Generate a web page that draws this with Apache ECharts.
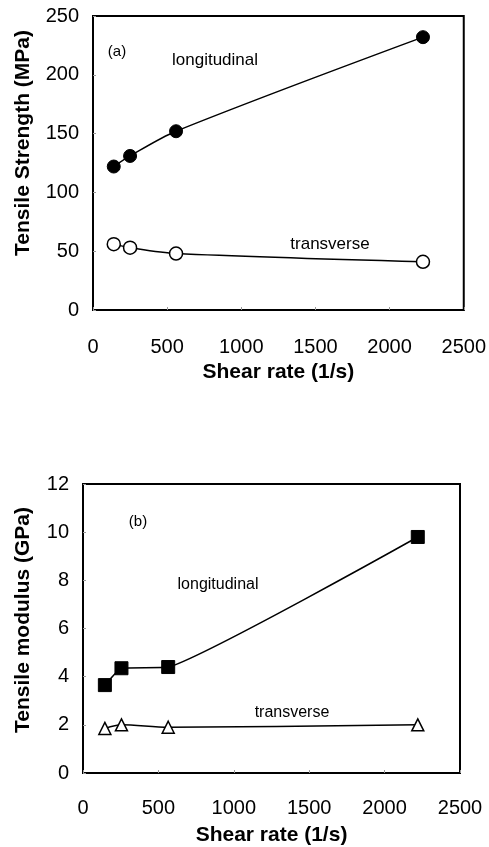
<!DOCTYPE html>
<html><head><meta charset="utf-8">
<script src="https://cdn.jsdelivr.net/npm/echarts@6/dist/echarts.min.js"></script>
<style>html,body{margin:0;padding:0;background:#fff}#c{width:489px;height:847px}</style>
</head><body><div id="c"></div>
<script>
// Data
const shearRateA = [140, 250, 560, 2225];
const strengthLong = [122, 131, 152, 232];
const strengthTrans = [56, 53, 48, 41];
const shearRateB = [145, 255, 565, 2220];
const modulusLong = [3.65, 4.35, 4.4, 9.8];
const modulusTrans = [1.85, 2.0, 1.9, 2.0];

const FONT = '"Liberation Sans", Arial, sans-serif';
const pairs = (xs, ys) => xs.map((x, i) => [x, ys[i]]);

const chart = echarts.init(document.getElementById('c'), null, {renderer: 'canvas'});
const labelBase = {color: '#000', fontFamily: FONT, fontSize: 20, formatter: v => String(v)};
const axisCommon = {
  axisLine: {show: true, onZero: false, lineStyle: {color: '#000', width: 2}},
  axisTick: {show: true, inside: true, length: 3, lineStyle: {color: '#999', width: 1}},
  splitLine: {show: false},
  nameTextStyle: {color: '#000', fontFamily: FONT, fontWeight: 'bold', fontSize: 21},
  nameLocation: 'middle'
};
const lineStyle = {color: '#000', width: 1.5};

chart.setOption({
  animation: false,
  backgroundColor: '#fff',
  grid: [
    {left: 93, right: 23, top: 16, height: 294, show: true, borderColor: '#000', borderWidth: 2},
    {left: 83, right: 29, top: 484, height: 294, show: true, borderColor: '#000', borderWidth: 2}
  ],
  xAxis: [
    Object.assign({}, axisCommon, {gridIndex: 0, type: 'value', min: 0, max: 2500, interval: 500,
      name: 'Shear rate (1/s)', nameGap: 52,
      axisLabel: Object.assign({}, labelBase, {margin: 27})}),
    Object.assign({}, axisCommon, {gridIndex: 1, type: 'value', min: 0, max: 2500, interval: 500,
      name: 'Shear rate (1/s)', nameGap: 52,
      axisLabel: Object.assign({}, labelBase, {margin: 25})})
  ],
  yAxis: [
    Object.assign({}, axisCommon, {gridIndex: 0, type: 'value', min: 0, max: 250, interval: 50,
      axisLabel: Object.assign({}, labelBase, {margin: 14, padding: [4, 0, 0, 0]})}),
    Object.assign({}, axisCommon, {gridIndex: 1, type: 'value', min: 0, max: 12, interval: 2,
      axisLabel: Object.assign({}, labelBase, {margin: 14, padding: [4, 0, 0, 0]})})
  ],
  series: [
    {type: 'line', xAxisIndex: 0, yAxisIndex: 0, data: pairs(shearRateA, strengthLong), smooth: 0.3,
      symbol: 'circle', symbolSize: 13, lineStyle: lineStyle,
      itemStyle: {color: '#000', borderColor: '#000', borderWidth: 1}},
    {type: 'line', xAxisIndex: 0, yAxisIndex: 0, data: pairs(shearRateA, strengthTrans), smooth: 0.3,
      symbol: 'circle', symbolSize: 13, lineStyle: lineStyle,
      itemStyle: {color: '#fff', borderColor: '#000', borderWidth: 1.5}},
    {type: 'line', xAxisIndex: 1, yAxisIndex: 1, data: pairs(shearRateB, modulusLong), smooth: 0.12,
      symbol: 'rect', symbolSize: 13, lineStyle: lineStyle,
      itemStyle: {color: '#000', borderColor: '#000', borderWidth: 1}},
    {type: 'line', xAxisIndex: 1, yAxisIndex: 1, data: pairs(shearRateB, modulusTrans), smooth: 0.3,
      symbol: 'triangle', symbolSize: 12, lineStyle: lineStyle,
      itemStyle: {color: '#fff', borderColor: '#000', borderWidth: 1.5}}
  ],
  graphic: [
    {type: 'text', x: 23, y: 143, rotation: Math.PI / 2,
      style: {text: 'Tensile Strength (MPa)', font: 'bold 21px ' + FONT, fill: '#000', textAlign: 'center', textVerticalAlign: 'middle'}},
    {type: 'text', x: 23, y: 620, rotation: Math.PI / 2,
      style: {text: 'Tensile modulus (GPa)', font: 'bold 21px ' + FONT, fill: '#000', textAlign: 'center', textVerticalAlign: 'middle'}},
    {type: 'text', x: 117, y: 52, style: {text: '(a)', font: '15px ' + FONT, fill: '#000', textAlign: 'center', textVerticalAlign: 'middle'}},
    {type: 'text', x: 215, y: 60, style: {text: 'longitudinal', font: '17px ' + FONT, fill: '#000', textAlign: 'center', textVerticalAlign: 'middle'}},
    {type: 'text', x: 330, y: 244, style: {text: 'transverse', font: '17px ' + FONT, fill: '#000', textAlign: 'center', textVerticalAlign: 'middle'}},
    {type: 'text', x: 138, y: 522, style: {text: '(b)', font: '15px ' + FONT, fill: '#000', textAlign: 'center', textVerticalAlign: 'middle'}},
    {type: 'text', x: 218, y: 585, style: {text: 'longitudinal', font: '16px ' + FONT, fill: '#000', textAlign: 'center', textVerticalAlign: 'middle'}},
    {type: 'text', x: 292, y: 713, style: {text: 'transverse', font: '16px ' + FONT, fill: '#000', textAlign: 'center', textVerticalAlign: 'middle'}}
  ]
});
</script></body></html>
